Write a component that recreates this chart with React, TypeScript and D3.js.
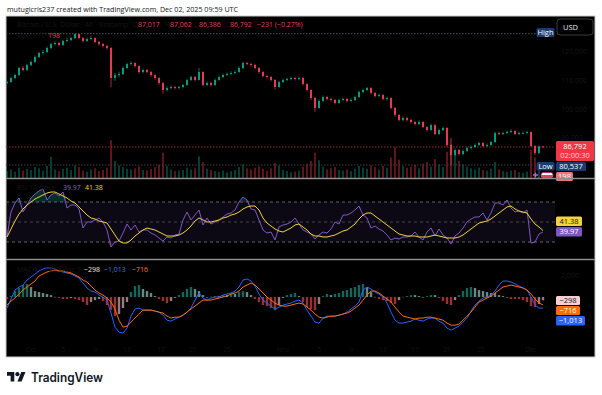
import * as d3 from "d3";

// 12h-ish candles, Sep 28 -> Dec 02 2025 (BTC/USD)
const firstOpen = 109000;
const closes = [
  109390, 110780, 111820, 114260, 113560, 115300, 116340, 118080, 119480, 119820,
  121210, 122600, 122950, 122260, 123650, 124000, 124690, 126080, 124690, 123650,
  124340, 124690, 123300, 122600, 121910, 121210, 110780, 111820, 112170, 114260,
  115650, 116000, 114950, 112870, 113560, 112870, 111820, 110780, 109040, 106610,
  107300, 107650, 107300, 107650, 108350, 110080, 111130, 110080, 112870, 108350,
  109040, 108350, 110080, 111130, 111820, 112170, 112520, 112870, 114260, 116000,
  115650, 115300, 114260, 112870, 111480, 111130, 110080, 107650, 109390, 110080,
  110430, 110780, 110430, 110780, 108690, 106610, 103820, 100350, 102780, 104170,
  103480, 103130, 102090, 103130, 103480, 102780, 103130, 104170, 105910, 106610,
  107300, 105560, 104520, 104870, 103480, 103820, 100350, 97910, 96170, 96870,
  96170, 95480, 94780, 95480, 93740, 92690, 94430, 91300, 92690, 93390,
  87480, 84000, 85740, 84350, 85390, 86430, 86780, 87480, 88170, 87130,
  87480, 88520, 91650, 91300, 91650, 92000, 92350, 91300, 91650, 91650,
  92000, 87130, 84700, 87017, 86792,
];
const highs = [
  109800, 111200, 112300, 114700, 114900, 115700, 116900, 118600, 119900, 120500,
  121700, 123100, 123500, 123400, 124100, 124700, 125200, 126200, 126100, 125000,
  124900, 125300, 125000, 123700, 123000, 122400, 121500, 112600, 113000, 114800,
  116100, 116600, 116300, 115200, 114100, 113900, 113200, 112100, 111100, 109400,
  107900, 108200, 108100, 108100, 108800, 110500, 111600, 111500, 114300, 113100,
  109600, 109500, 110600, 111600, 112300, 112700, 113100, 113400, 114800, 116500,
  116400, 116100, 115700, 114600, 113200, 111900, 111500, 110400, 109900, 110600,
  110900, 111300, 111200, 111300, 111100, 109000, 106900, 104200, 103300, 104700,
  104600, 103900, 103500, 103600, 104000, 103900, 103700, 104600, 106400, 107100,
  107700, 107600, 105900, 105400, 105200, 104300, 104100, 100700, 98300, 97400,
  97300, 96600, 95900, 96000, 95800, 94100, 94900, 94700, 93200, 93900,
  93700, 87800, 86300, 86100, 85900, 86900, 87300, 88000, 88700, 88500,
  88000, 89000, 92100, 92000, 92100, 92500, 93000, 92600, 92100, 92200,
  92500, 92200, 87400, 87300, 87062,
];
const lows = [
  108600, 109100, 110400, 111500, 113100, 113200, 114900, 116000, 117700, 119000,
  119500, 120800, 122100, 121700, 121900, 123200, 123600, 124300, 124200, 123100,
  123300, 123900, 122800, 122000, 121400, 120600, 107500, 109800, 111200, 111800,
  113900, 115100, 114400, 112300, 112400, 112400, 111300, 110200, 108500, 105300,
  106100, 106900, 106800, 106900, 107300, 108000, 109700, 109600, 109900, 107900,
  107900, 107800, 108000, 109800, 110800, 111400, 111800, 112100, 112600, 113900,
  115200, 114800, 113800, 112300, 111000, 110600, 109600, 106800, 107300, 109000,
  109700, 110000, 109900, 110000, 108200, 106100, 103200, 99000, 100000, 102400,
  103000, 102600, 101600, 101800, 102700, 102300, 102400, 102800, 103800, 105500,
  106200, 105100, 104000, 104100, 103000, 103000, 99900, 97400, 95700, 95800,
  95700, 95000, 94300, 94400, 93300, 92100, 92400, 90900, 90900, 92300,
  86900, 80537, 83600, 83800, 83900, 85000, 86000, 86400, 87100, 86700,
  86800, 87100, 88200, 90900, 90900, 91300, 91700, 90900, 90900, 91200,
  91400, 86700, 83900, 84300, 86386,
];
const volumes = [
  360, 450, 330, 540, 390, 480, 420, 570, 510, 390,
  630, 1110, 450, 360, 480, 540, 420, 660, 570, 390,
  330, 450, 510, 360, 420, 540, 1980, 900, 660, 570,
  480, 450, 510, 600, 420, 390, 480, 570, 690, 1320,
  630, 450, 360, 390, 420, 540, 450, 510, 1140, 840,
  480, 420, 360, 330, 390, 300, 360, 420, 570, 720,
  510, 450, 540, 600, 480, 390, 510, 780, 660, 420,
  360, 300, 330, 390, 600, 750, 900, 1320, 930, 600,
  450, 510, 570, 420, 390, 450, 360, 480, 630, 540,
  480, 660, 570, 450, 630, 540, 1080, 1620, 960, 630,
  540, 600, 690, 510, 750, 840, 600, 990, 720, 570,
  1380, 2100, 1230, 900, 720, 600, 510, 450, 540, 420,
  390, 480, 840, 450, 360, 330, 390, 420, 300, 270,
  330, 1470, 1080, 750, 198,
];
const rsi = [
  35, 60, 69, 74, 60, 67, 74, 78, 81, 83,
  72, 77, 79, 76, 80, 64, 67, 67, 63, 44,
  50, 50, 52, 54, 50, 42, 25, 30, 31, 39,
  48, 42, 47, 40, 42, 42, 39, 37, 34, 31,
  35, 34, 37, 38, 52, 60, 52, 57, 62, 47,
  54, 48, 50, 52, 55, 58, 59, 62, 70, 75,
  72, 63, 62, 52, 42, 39, 40, 32, 45, 47,
  48, 50, 54, 48, 42, 40, 38, 33, 37, 40,
  39, 43, 50, 48, 57, 57, 59, 62, 66, 57,
  54, 44, 46, 43, 41, 37, 32, 34, 33, 35,
  35, 36, 40, 35, 32, 40, 44, 36, 43, 37,
  34, 28, 36, 39, 44, 50, 53, 55, 55, 59,
  52, 59, 69, 69, 67, 72, 64, 60, 61, 59,
  62, 29, 30, 38, 39.97,
];
const rsiMa = [
  35, 43, 51, 58, 63, 67, 70, 73, 75, 77,
  79, 80, 80, 78, 76, 74, 71, 69, 65, 61,
  57, 54, 53, 51, 50, 49, 43, 37, 31, 29,
  29, 32, 36, 39, 42, 44, 43, 42, 40, 38,
  36, 36, 36, 37, 39, 42, 46, 51, 54, 52,
  50, 50, 51, 52, 54, 55, 57, 58, 60, 63,
  65, 66, 66, 62, 54, 49, 46, 43, 41, 40,
  42, 44, 47, 48, 45, 42, 38, 36, 36, 35,
  35, 36, 37, 39, 41, 42, 45, 48, 53, 57,
  59, 59, 56, 53, 50, 47, 44, 41, 38, 37,
  36, 36, 36, 35, 35, 35, 36, 37, 36, 35,
  34, 34, 34, 35, 37, 40, 43, 46, 49, 50,
  51, 53, 56, 59, 62, 65, 66, 63, 61, 60,
  59, 53, 48, 45, 41.38,
];
const macd = [
  -1010, -180, 640, 920, 1100, 1560, 1840, 2120, 2390, 2580,
  2670, 2670, 2580, 2390, 2300, 2210, 2120, 1930, 1750, 1290,
  830, 550, 460, 180, 0, -280, -1470, -2760, -3220, -3310,
  -2850, -1750, -1100, -1010, -1200, -1200, -1200, -1290, -1380, -1660,
  -2120, -2210, -2020, -1840, -1660, -1380, -1010, -280, 370, -90,
  -280, -90, 0, 0, 180, 280, 370, 550, 920, 1560,
  1660, 1470, 1010, 280, -280, -550, -830, -1100, -920, -740,
  -640, -550, -370, -280, -550, -1200, -1750, -2300, -2390, -1930,
  -1750, -1750, -1750, -1660, -1560, -1380, -1100, -830, -460, 640,
  920, 740, 460, 280, 0, -550, -1380, -2120, -2390, -2390,
  -2300, -2210, -2020, -2120, -2210, -2020, -1930, -1930, -2210, -2390,
  -2850, -3040, -2850, -2670, -2300, -1930, -1290, -740, -370, -90,
  0, 180, 550, 1100, 1470, 1470, 1380, 1200, 1010, 830,
  640, 0, -740, -1010, -1013,
];
const signal = [
  -740, -370, -90, 280, 640, 920, 1200, 1470, 1930, 2120,
  2300, 2390, 2480, 2390, 2390, 2300, 2210, 2020, 1840, 1560,
  1380, 1010, 640, 370, 180, -90, -460, -1100, -2120, -2760,
  -2670, -2300, -1930, -1560, -1200, -1200, -1200, -1290, -1380, -1470,
  -1750, -1930, -1840, -1840, -1660, -1380, -1100, -830, -550, -280,
  -280, -280, -180, -90, 0, 90, 280, 370, 550, 920,
  1100, 1290, 1100, 740, 370, 0, -280, -550, -740, -830,
  -830, -740, -640, -550, -640, -920, -1200, -1560, -1840, -1930,
  -1840, -1750, -1750, -1660, -1560, -1470, -1290, -1010, -740, -280,
  180, 550, 550, 370, 90, -180, -460, -920, -1380, -1750,
  -1840, -1930, -2020, -1930, -1930, -1840, -1840, -1930, -2020, -2120,
  -2390, -2580, -2580, -2480, -2120, -1750, -1380, -920, -460, -280,
  -90, 90, 370, 640, 920, 1010, 1100, 1010, 920, 830,
  640, 280, -180, -550, -716,
];
const hist = [
  -180, 90, 550, 830, 1100, 1200, 920, 550, 460, 370,
  280, 180, 20, -90, -180, -180, -90, -180, -280, -460,
  -740, -460, -280, -180, -370, -740, -1200, -1750, -1560, -1010,
  -460, 460, 1010, 1100, 740, 550, 370, 90, -180, -370,
  -550, -370, -90, 180, 460, 740, 920, 740, 550, 180,
  -90, 40, 90, 90, 180, 180, 280, 280, 460, 550,
  460, 180, -180, -460, -740, -830, -1010, -1200, -740, -90,
  180, 280, 370, 90, -460, -920, -1100, -1200, -640, 90,
  280, 180, 280, 370, 550, 640, 830, 920, 1100, 1200,
  920, 460, 20, -180, -280, -370, -550, -640, -280, 20,
  90, 180, 180, 90, -90, 90, 180, 180, -90, -370,
  -640, -740, -280, 180, 550, 830, 920, 830, 640, 550,
  460, 370, 370, 180, 90, -90, -180, -180, -180, -280,
  -460, -830, -920, -640, -298,
];

const priceTicks = [90000, 100000, 110000, 120000];
const timeTickIdx = [6, 14, 22, 30, 38.5, 46.5, 55, 69, 78, 86, 94, 102, 110, 118.5, 131];
const timeTickLabels = ["Oct", "5", "9", "13", "17", "21", "25", "Nov", "5", "9", "13", "17", "21", "25", "Dec"];

const UP = "#0b9a80";
const DOWN = "#e23b52";
const FONT = "'Open Sans', Roboto, sans-serif";
const DIM = "#161616";

const L = 6;
const PR = 555;
const R = 595;

export default function App() {
  const n = closes.length;
  const x = d3.scaleLinear().domain([0, n - 1]).range([7, 543]);
  const yP = d3.scaleLinear().domain([76000, 132000]).range([178, 17]);
  const yV = d3.scaleLinear().domain([0, 2100]).range([178, 138]);
  const yR = d3.scaleLinear().domain([30, 70]).range([242, 202]);
  const yM = d3.scaleLinear().domain([-5500, 3400]).range([357, 260]);
  const fmt = d3.format(",");

  const opens = closes.map((c, i) => (i === 0 ? firstOpen : closes[i - 1]));
  const last = n - 1;
  const maxHigh = d3.max(highs) as number;
  const minLow = d3.min(lows) as number;

  const rsiLine = d3.line<number>().x((_, i) => x(i)).y((d) => yR(d));
  const obArea = d3.area<number>().x((_, i) => x(i)).y0(yR(70)).y1((d) => yR(Math.max(d, 70)));
  const osArea = d3.area<number>().x((_, i) => x(i)).y0(yR(30)).y1((d) => yR(Math.min(d, 30)));
  const mLine = d3.line<number>().x((_, i) => x(i)).y((d) => yM(d));

  const histColor = (v: number, i: number) => {
    const prev = i === 0 ? v : hist[i - 1];
    if (v >= 0) return prev < v ? "#26a69a" : "#b2dfdb";
    return prev < v ? "#ffcdd2" : "#ff5252";
  };

  const tag = (
    x0: number, y0: number, w: number, h: number, bg: string, fg: string, text: string, key: string
  ) => (
    <g key={key}>
      <rect x={x0} y={y0} width={w} height={h} rx={1.5} fill={bg} />
      <text x={x0 + w / 2} y={y0 + h / 2 + 2.5} textAnchor="middle" fill={fg} fontSize={7.5} fontFamily={FONT}>
        {text}
      </text>
    </g>
  );

  return (
    <svg width={602} height={395} style={{ position: "fixed", left: 0, top: 0 }}>
      <rect width={602} height={395} fill="#ffffff" />
      <text x={7} y={12} fontSize={7} fontFamily={FONT} fill="#131722" textLength={231} lengthAdjust="spacingAndGlyphs">
        mutugicris237 created with TradingView.com, Dec 02, 2025 09:59 UTC
      </text>

      {/* chart frame */}
      <rect x={L} y={16} width={R - L} height={341} fill="#000000" stroke="#c9c9c9" strokeWidth={1} />

      {/* price pane */}
      <g>
        <line x1={L} x2={537} y1={yP(maxHigh)} y2={yP(maxHigh)} stroke="#4f525c" strokeDasharray="1.5,1.5" />
        {volumes.map((v, i) => (
          <rect
            key={"v" + i}
            x={x(i) - 1}
            y={yV(v)}
            width={2}
            height={178 - yV(v)}
            fill={closes[i] >= opens[i] ? "rgba(8,153,129,0.4)" : "rgba(242,54,69,0.38)"}
          />
        ))}
        <line x1={L} x2={PR} y1={yP(closes[last])} y2={yP(closes[last])} stroke="#9c2633" strokeDasharray="1.5,1.5" />
        <line x1={L} x2={537} y1={yP(minLow)} y2={yP(minLow)} stroke="#3e414a" strokeDasharray="1.5,1.5" />
        {closes.map((c, i) => {
          const o = opens[i];
          const col = c >= o ? UP : DOWN;
          const top = yP(Math.max(o, c));
          const bot = yP(Math.min(o, c));
          return (
            <g key={"c" + i}>
              <line x1={x(i)} x2={x(i)} y1={yP(highs[i])} y2={yP(lows[i])} stroke={col} strokeWidth={0.7} />
              <rect x={x(i) - 1} y={top} width={2} height={Math.max(bot - top, 0.8)} fill={col} />
            </g>
          );
        })}
        {/* legend */}
        <text x={17} y={27} fontSize={7} fontFamily={FONT} fill={DIM}>Bitcoin / U.S. Dollar · 4h · Bitstamp</text>
        {[
          ["O", "87,017", 138],
          ["H", "87,062", 170],
          ["L", "86,386", 199],
          ["C", "86,792", 230],
        ].map(([k, v, px]) => (
          <g key={k as string}>
            <text x={(px as number) - 5} y={27} fontSize={7} fontFamily={FONT} fill={DIM}>{k}</text>
            <text x={px as number} y={27} fontSize={7} fontFamily={FONT} fill="#e0435a">{v}</text>
          </g>
        ))}
        <text x={257} y={27} fontSize={7} fontFamily={FONT} fill="#e0435a">−231 (−0.27%)</text>
        <text x={17} y={38} fontSize={7} fontFamily={FONT} fill={DIM}>Vol · BTC</text>
        <text x={48} y={38} fontSize={7} fontFamily={FONT} fill="#e0435a">{volumes[last]}</text>

        {/* right axis */}
        {priceTicks.map((t) => (
          <text key={t} x={561} y={yP(t) + 2.5} fontSize={7} fontFamily={FONT} fill={DIM}>{fmt(t)}</text>
        ))}
        <rect x={557} y={19} width={36} height={16} rx={3} fill="#000" stroke="#3a3a3a" />
        <text x={563} y={30} fontSize={7.5} fontFamily={FONT} fill="#e6e6e6">USD</text>
        {tag(536.5, 28, 18, 9, "#1d3a6f", "#ffffff", "High", "hi")}
        <rect x={556} y={141} width={38} height={20} rx={1.5} fill="#f23645" />
        <text x={575} y={149} textAnchor="middle" fontSize={7.5} fontFamily={FONT} fill="#fff">{fmt(closes[last])}</text>
        <text x={575} y={158} textAnchor="middle" fontSize={7.5} fontFamily={FONT} fill="#ffd0d4">02:00:30</text>
        {tag(536.5, 162, 18, 8.5, "#1d3a6f", "#ffffff", "Low", "lo")}
        {tag(556, 162, 30, 9, "#1d3a6f", "#ffffff", fmt(minLow), "lov")}
        {tag(556, 172, 17, 9, "#f0727a", "#ffffff", String(volumes[last]), "vv")}
        <path d="M533 175h5M535.5 172.5v5" stroke="#9b6cf2" strokeWidth={1.3} />
        <rect x={541} y={172.5} width={12} height={5} rx={2.5} fill="#ffffff" stroke="#c2185b" strokeWidth={0.8} />
        <rect x={541} y={175} width={12} height={2.5} rx={1.2} fill="#e0435a" />
      </g>

      {/* pane separators */}
      <line x1={L} x2={R} y1={178.5} y2={178.5} stroke="#8d8d8d" strokeWidth={1.5} />
      <line x1={L} x2={R} y1={259.5} y2={259.5} stroke="#8d8d8d" strokeWidth={1.5} />

      {/* RSI pane */}
      <g>
        <rect x={L + 1} y={yR(70)} width={PR - L - 1} height={yR(30) - yR(70)} fill="rgba(126,87,194,0.1)" />
        {[70, 50, 30].map((v) => (
          <line key={v} x1={L} x2={PR} y1={yR(v)} y2={yR(v)} stroke={v === 50 ? "#555" : "#787b86"} strokeDasharray="3,3" strokeWidth={0.8} />
        ))}
        <path d={obArea(rsi) as string} fill="rgba(8,153,129,0.3)" />
        <path d={osArea(rsi) as string} fill="rgba(242,54,69,0.25)" />
        <path d={rsiLine(rsi) as string} fill="none" stroke="#7e57c2" strokeWidth={1} />
        <path d={rsiLine(rsiMa) as string} fill="none" stroke="#f2d23f" strokeWidth={1} />
        <text x={17} y={190} fontSize={7} fontFamily={FONT} fill={DIM}>RSI 14 close</text>
        <text x={63} y={190} fontSize={7} fontFamily={FONT} fill="#8a66d6">{rsi[last].toFixed(2)}</text>
        <text x={85} y={190} fontSize={7} fontFamily={FONT} fill="#f2d23f">{rsiMa[last].toFixed(2)}</text>
        {tag(556, 216.5, 26, 9.5, "#f5d33a", "#131722", rsiMa[last].toFixed(2), "rm")}
        {tag(556, 227, 26, 9.5, "#7e57c2", "#ffffff", rsi[last].toFixed(2), "rr")}
      </g>

      {/* MACD pane */}
      <g>
        {hist.map((v, i) => (
          <rect
            key={"h" + i}
            x={x(i) - 1.2}
            y={Math.min(yM(v), yM(0))}
            width={2.4}
            height={Math.max(Math.abs(yM(v) - yM(0)), 0.5)}
            fill={histColor(v, i)}
            opacity={0.6}
          />
        ))}
        <path d={mLine(macd) as string} fill="none" stroke="#2962ff" strokeWidth={1} />
        <path d={mLine(signal) as string} fill="none" stroke="#ff6d00" strokeWidth={1} />
        <text x={17} y={272} fontSize={7} fontFamily={FONT} fill={DIM}>MACD 12 26 close 9</text>
        <text x={84} y={272} fontSize={7} fontFamily={FONT} fill="#f4e3e5">{"−" + fmt(-hist[last])}</text>
        <text x={104} y={272} fontSize={7} fontFamily={FONT} fill="#3d6ef5">{"−" + fmt(-macd[last])}</text>
        <text x={132} y={272} fontSize={7} fontFamily={FONT} fill="#ff7a1a">{"−" + fmt(-signal[last])}</text>
        <text x={561} y={yM(2000) + 2.5} fontSize={7} fontFamily={FONT} fill={DIM}>2,000</text>
        {tag(556, 296, 24, 9, "#ffcdd2", "#131722", "−" + fmt(-hist[last]), "mh")}
        {tag(556, 306, 24, 9, "#ff6d00", "#ffffff", "−" + fmt(-signal[last]), "ms")}
        {tag(556, 316, 29, 9.5, "#2962ff", "#ffffff", "−" + fmt(-macd[last]), "mm")}
        {timeTickIdx.map((t, i) => (
          <text key={"t" + i} x={x(t)} y={352} textAnchor="middle" fontSize={6.5} fontFamily={FONT} fill="#141414">
            {timeTickLabels[i]}
          </text>
        ))}
      </g>

      {/* TradingView logo */}
      <g transform="translate(7,370) scale(0.52)" fill="#131722">
        <path d="M14 22H7V11H0V4h14v18zM28 22h-8l7.5-18h8L28 22z" />
        <circle cx={20} cy={8} r={4} />
      </g>
      <text x={31} y={382} fontSize={12.5} fontWeight={600} fontFamily="Inter, sans-serif" fill="#131722" textLength={72} lengthAdjust="spacingAndGlyphs">
        TradingView
      </text>
    </svg>
  );
}
